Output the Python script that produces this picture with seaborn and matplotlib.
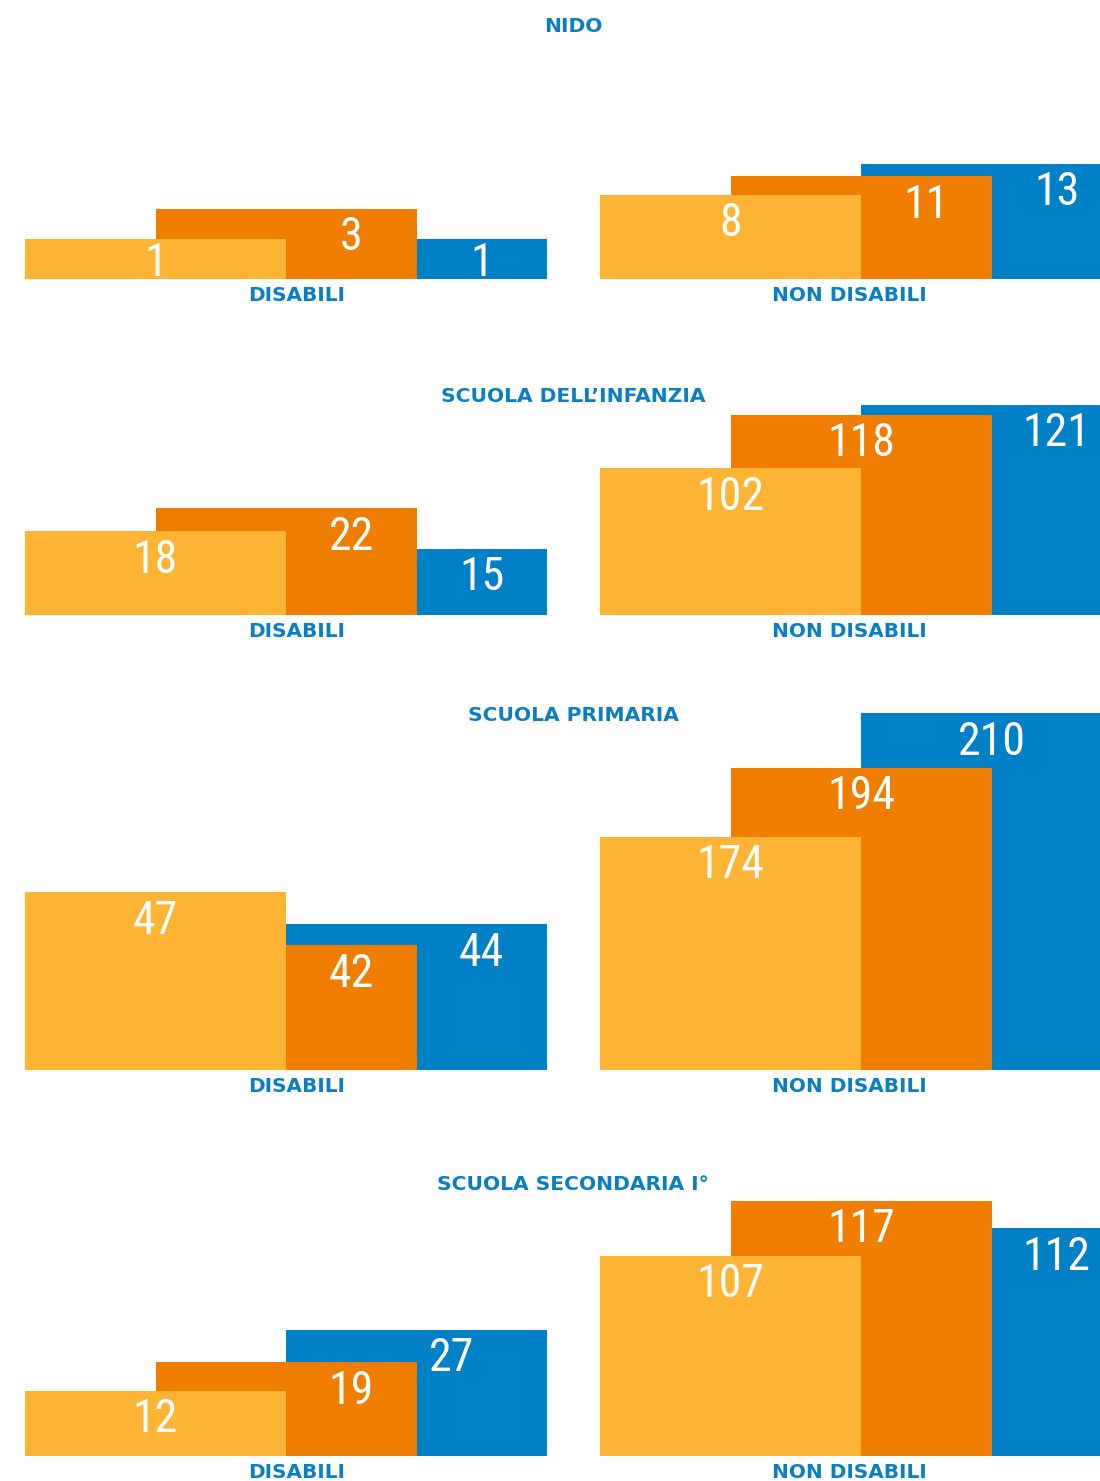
import pandas as pd
import seaborn as sns
import matplotlib.pyplot as plt
from matplotlib import font_manager

# Dati: iscritti per ordine di scuola, distinti tra disabili e non disabili
sezioni = ["NIDO", "SCUOLA DELL’INFANZIA", "SCUOLA PRIMARIA", "SCUOLA SECONDARIA I°"]
gruppi = ["DISABILI", "NON DISABILI"]
periodi = ["P1", "P2", "P3"]
disabili = [[1, 3, 1], [18, 22, 15], [47, 42, 44], [12, 19, 27]]
non_disabili = [[8, 11, 13], [102, 118, 121], [174, 194, 210], [107, 117, 112]]

# Stile
colori = ["#FDB435", "#EE7D00", "#0080C6"]
BLU_TESTO = "#0A7EC2"

# famiglia stretta per i numeri, se disponibile
disponibili = {f.name for f in font_manager.fontManager.ttflist}
candidati = ["Roboto Condensed", "DejaVu Sans Condensed", "Liberation Sans Narrow",
             "Open Sans Condensed", "Roboto", "DejaVu Sans"]
FONT_NUMERI = [f for f in candidati if f in disponibili] or ["DejaVu Sans"]
STRETTO = FONT_NUMERI[0] not in ("Roboto", "DejaVu Sans")
DIM_NUMERI = 33 if STRETTO else 30

# Impaginazione (pixel)
W, H, DPI = 1100, 1481, 100
base_y = [278.7, 614.7, 1070.0, 1455.7]
titolo_y = [26.5, 396.5, 715.5, 1185.0]
pannello_x = [25, 600]
pannello_w = 522
etichetta_x = [297, 849]
titolo_x = 573

# Scala verticale di ogni pannello: valore alla base e pixel per unità
fondo = {"DISABILI": [-1.65, 3.53, 30.26, -3.91],
         "NON DISABILI": [-5.47, 58.2, 106.0, 70.66]}
px_unita = {"DISABILI": [15.0, 5.75, 10.61, 4.074],
            "NON DISABILI": [6.225, 3.343, 3.432, 5.5]}

# posizione orizzontale delle etichette (unità dell'asse x, barre larghe 2)
pos_etichette = {
    "DISABILI": [[0, 1.5, 2.5], [0, 1.5, 2.5], [0, 1.5, 2.5], [0, 1.5, 2.27]],
    "NON DISABILI": [[0, 1.5, 2.5], [0, 1, 2.5], [0, 1, 2], [0, 1, 2.5]],
}

sns.set_theme(style="white")
plt.rcParams["font.family"] = ["DejaVu Sans"]

fig = plt.figure(figsize=(W / DPI, H / DPI), dpi=DPI)
fig.patch.set_facecolor("white")


def fx(px):
    return px / W


def fy(py):
    return 1 - py / H


for s, sezione in enumerate(sezioni):
    fig.text(fx(titolo_x), fy(titolo_y[s]), sezione, ha="center", va="center",
             color=BLU_TESTO, fontsize=14.6, fontweight="bold")
    for g, gruppo in enumerate(gruppi):
        valori = (disabili if g == 0 else non_disabili)[s]
        df = pd.DataFrame({"periodo": periodi, "valore": valori})
        lo = fondo[gruppo][s]
        k = px_unita[gruppo][s]
        top_px = titolo_y[s] - 20
        h_px = base_y[s] - top_px

        ax = fig.add_axes([fx(pannello_x[g]), fy(base_y[s]), pannello_w / W, h_px / H])
        sns.barplot(data=df, x="periodo", y="valore", hue="periodo", palette=colori,
                    width=2, linewidth=0, saturation=1, legend=False, ax=ax)
        ax.set_xlim(-1, 3)
        ax.set_ylim(lo, lo + h_px / k)
        ax.set_axis_off()

        # le barre partono dalla base del pannello; la prima resta in primo piano
        for patch, z in zip(ax.patches, [3, 2, 1]):
            cima = patch.get_y() + patch.get_height()
            patch.set_y(lo)
            patch.set_height(cima - lo)
            patch.set_zorder(z)

        for xi, v in zip(pos_etichette[gruppo][s], valori):
            alt = (v - lo) * k
            off = min(25, alt - 19.5)
            ax.annotate(str(v), xy=(xi, v), xytext=(0, -(off + 16.5)),
                        textcoords="offset pixels", ha="center", va="baseline",
                        color="white", fontsize=DIM_NUMERI, family=FONT_NUMERI,
                        zorder=5, annotation_clip=False)

        fig.text(fx(etichetta_x[g]), fy(base_y[s] + 16.5), gruppo, ha="center",
                 va="center", color=BLU_TESTO, fontsize=14.4, fontweight="bold")

fig.savefig("out.png", dpi=DPI, facecolor="white")
